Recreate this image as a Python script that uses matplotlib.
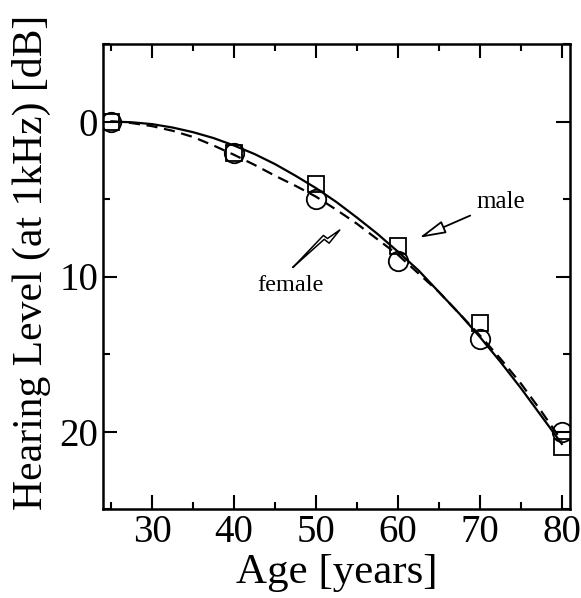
import numpy as np
from matplotlib import pyplot as plt
from matplotlib.ticker import MultipleLocator

# measured points
age = [25, 40, 50, 60, 70, 80]
male_pts = [0, 2, 4, 8, 13, 21]
female_pts = [0, 2, 5, 9, 14, 20]

# fitted curves
curve_age = [25, 27.5, 30, 32.5, 35, 37.5, 40, 42.5, 45, 47.5, 50, 52.5,
             55, 57.5, 60, 62.5, 65, 67.5, 70, 72.5, 75, 77.5, 80]
male_curve = [0.0, 0.05, 0.17, 0.39, 0.69, 1.07, 1.55, 2.1, 2.75, 3.5, 4.3, 5.2,
              6.2, 7.25, 8.4, 9.6, 11.0, 12.4, 13.9, 15.5, 17.2, 19.0, 20.8]
female_curve = [0.0, 0.1, 0.3, 0.6, 1.0, 1.55, 2.15, 2.8, 3.5, 4.15, 4.85, 5.7,
                6.6, 7.6, 8.6, 9.8, 11.0, 12.4, 13.8, 15.3, 16.9, 18.7, 20.6]

# zig-zag arrow outline for "female"
bolt_x = [47.2, 51.0, 51.6, 52.9, 51.4, 50.9, 47.2]
bolt_y = [9.4, 7.6, 7.85, 7.0, 7.55, 7.35, 9.4]

plt.rcParams['font.family'] = 'Liberation Serif'

fig = plt.figure(figsize=(5.81, 5.98), dpi=100)
ax = fig.add_axes([103/581, 1-509/598, 467/581, 465/598])

ax.plot(curve_age, male_curve, color='black', lw=1.6)
ax.plot(curve_age, female_curve, color='black', lw=1.6, linestyle=(0, (5, 3)))
ax.plot(age, male_pts, linestyle='none', marker='s', markersize=11,
        markerfacecolor='none', markeredgecolor='black', markeredgewidth=1.3)
ax.plot(age, female_pts, linestyle='none', marker='o', markersize=14,
        markerfacecolor='none', markeredgecolor='black', markeredgewidth=1.3)

ax.annotate('male', xy=(62.6, 7.5), xytext=(72.6, 5.2), fontsize=18,
            ha='center', va='center',
            arrowprops=dict(arrowstyle='-|>,head_length=0.9,head_width=0.22',
                            fc='white', ec='black', lw=1.3,
                            shrinkA=3, shrinkB=0))
ax.text(46.9, 10.6, 'female', fontsize=17.5, ha='center', va='center')
ax.plot(bolt_x, bolt_y, color='black', lw=1.1)

ax.set_xlim(24, 81)
ax.set_ylim(25, -5)
ax.xaxis.set_major_locator(MultipleLocator(10))
ax.xaxis.set_minor_locator(MultipleLocator(5))
ax.yaxis.set_major_locator(MultipleLocator(10))
ax.yaxis.set_minor_locator(MultipleLocator(5))
ax.tick_params(which='both', direction='in', top=True, right=True, width=1.5,
               labelsize=28)
ax.tick_params(which='major', length=10)
ax.tick_params(which='minor', length=5)
for s in ax.spines.values():
    s.set_linewidth(1.8)

ax.set_xlabel('Age [years]', fontsize=31, labelpad=2)
ax.set_ylabel('Hearing Level (at 1kHz) [dB]', fontsize=30)
ax.yaxis.set_label_coords(-0.112, 0.53)

plt.savefig('out.png', dpi=100)
plt.close()
